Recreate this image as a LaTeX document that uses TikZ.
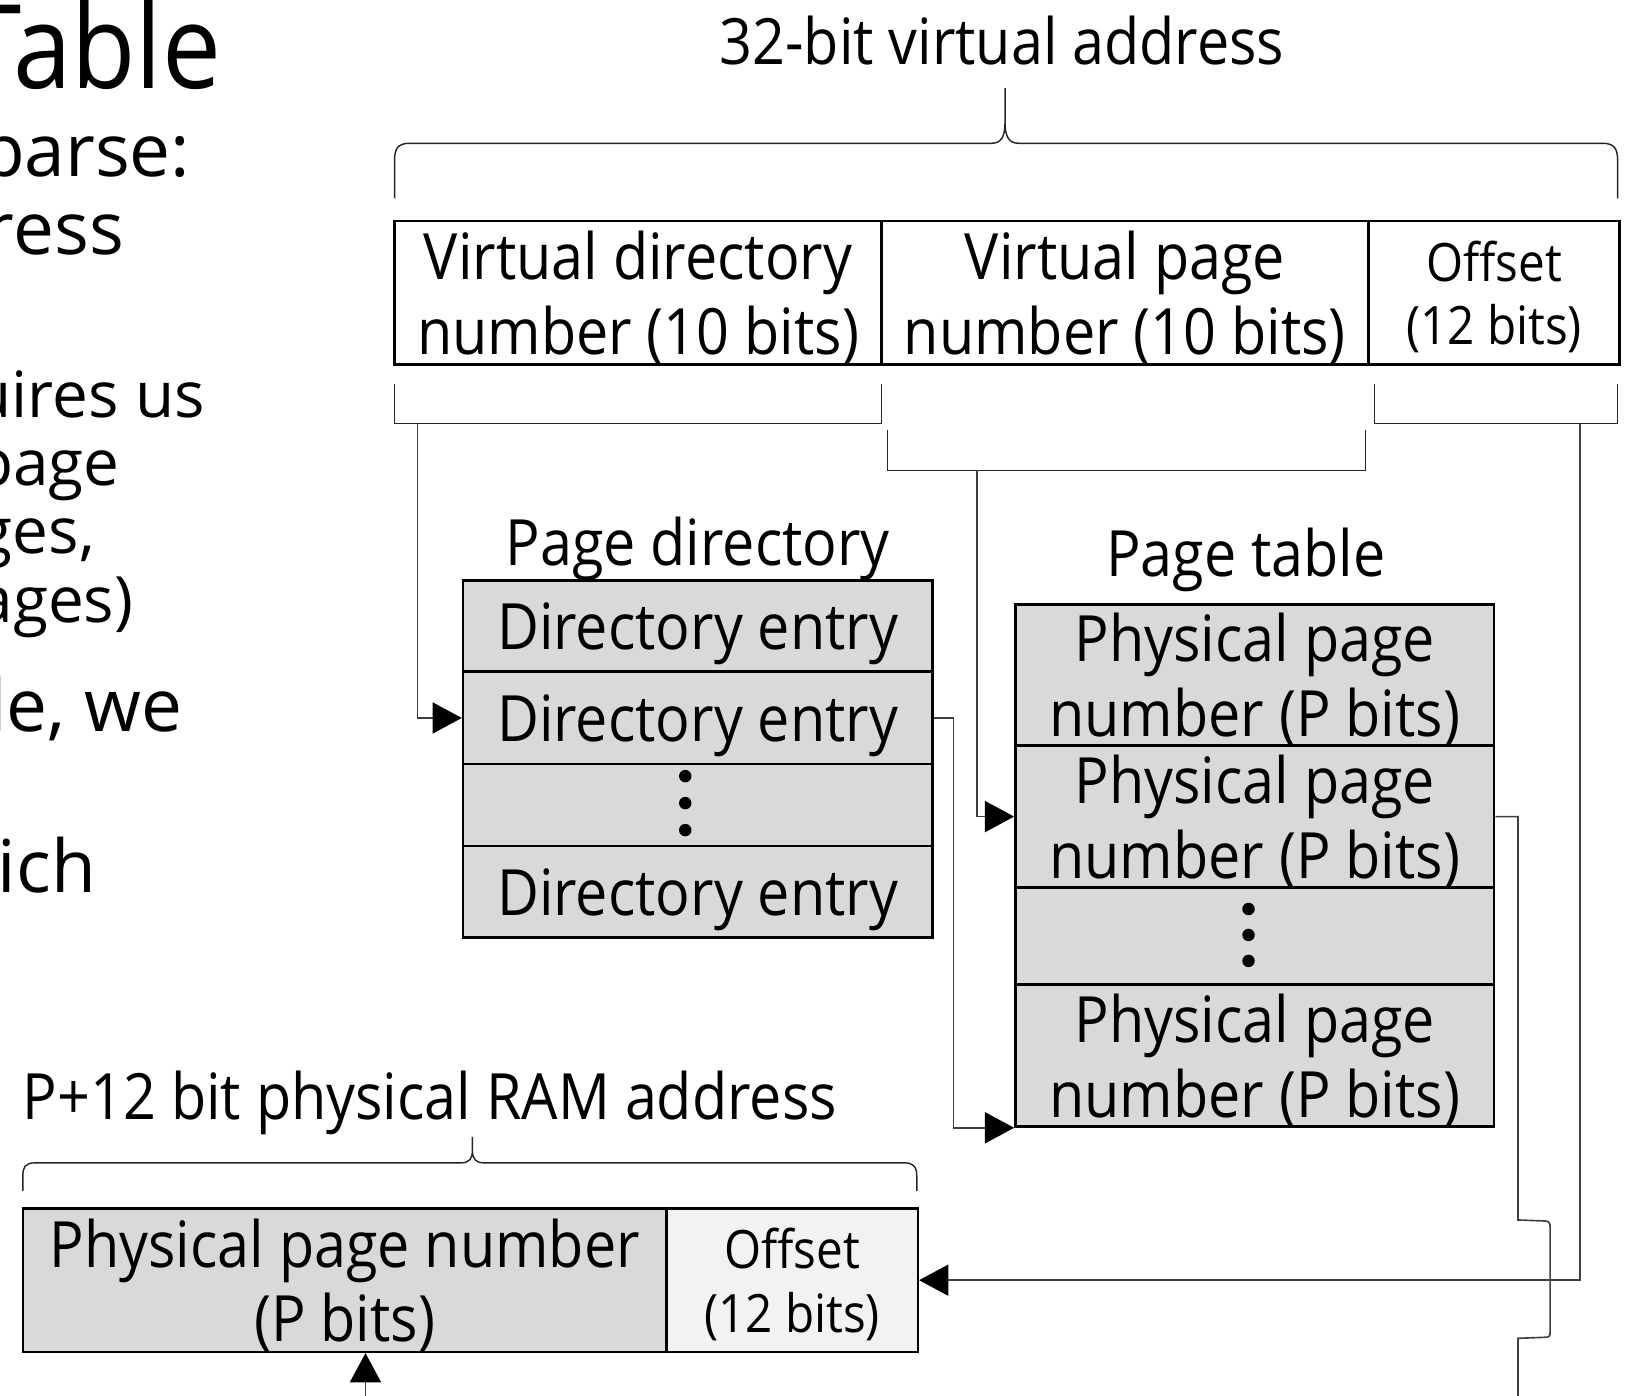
\documentclass[tikz,border=0pt]{standalone}
\usepackage{fontspec}
\newfontfamily\slidefont{Open Sans}[FakeStretch=0.9]
\newfontfamily\bodyfamily{Open Sans}
\usetikzlibrary{arrows.meta}

\definecolor{entrygray}{HTML}{D9D9D9}
\definecolor{offgray}{HTML}{F2F2F2}

\newcommand{\cellfont}{\slidefont\fontsize{17.5}{20.5}\selectfont}
\newcommand{\smallcellfont}{\slidefont\fontsize{14.5}{17.4}\selectfont}
\newcommand{\headfont}{\slidefont\fontsize{32}{38}\selectfont}
\newcommand{\bodyfont}{\bodyfamily\fontsize{20}{24}\selectfont}
\newcommand{\subfont}{\bodyfamily\fontsize{17.5}{21}\selectfont}

\begin{document}
\begin{tikzpicture}[x=0.1mm, y=-0.1mm,
	cell/.style={draw, line width=0.7pt, inner sep=0pt, align=center, text depth=0pt, font=\cellfont},
	entry/.style={cell, fill=entrygray},
	caption/.style={font=\cellfont, inner sep=0pt, anchor=base},
	bullet/.style={font=\bodyfont, inner sep=0pt, anchor=base east},
	wire/.style={draw=black!75, line width=0.45pt},
	link/.style={wire, -{Triangle[length=8pt,width=8.5pt,color=black]}},
	bracket/.style={draw=black!85, line width=0.4pt}]

\useasboundingbox (0,0) rectangle (1568,1344);

% slide text, cut at the left edge
\node [bullet, font=\headfont] (Tit) at (214,85) {Table};
\node [bullet] (L1) at (184,170) {sparse:};
\node [bullet] (L2) at (120,245) {dress};
\node [bullet, font=\subfont] (L3) at (198,402) {quires us};
\node [bullet, font=\subfont] (L4) at (116,468) {page};
\node [bullet, font=\subfont] (L5) at (92,533) {ges,};
\node [bullet, font=\subfont] (L6) at (129,600) {ages)};
\node [bullet] (L7) at (176,705) {le, we};
\node [bullet] (L8) at (93,860) {hich};

%%%%%%%%%%%%%%%%%%%%%%%%%%%%%%%%%%%%%%%%%%%%%%%%%%%%%%%%%%%%%%%%%%%%%%%%
% virtual address
%%%%%%%%%%%%%%%%%%%%%%%%%%%%%%%%%%%%%%%%%%%%%%%%%%%%%%%%%%%%%%%%%%%%%%%%
\node [caption] (VAddr) at (965,62) {32-bit virtual address};
\node [cell, minimum width=46.9mm, minimum height=13.8mm] (VDir)	at (614.5,282)	{Virtual directory\\number (10 bits)};
\node [cell, minimum width=46.9mm, minimum height=13.8mm] (VPage)	at (1083.5,282)	{Virtual page\\number (10 bits)};
\node [cell, font=\smallcellfont, minimum width=24.2mm, minimum height=13.8mm] (VOff) at (1439,282) {Offset\\(12 bits)};

% brace over the whole address
\draw [bracket] (380,191) -- (380,155) .. controls (380,143) and (383,138) .. (395,138)
	-- (955,138) .. controls (964,138) and (968,132) .. (968,118) -- (968,85)
	-- (968,118) .. controls (968,132) and (972,138) .. (981,138)
	-- (1543,138) .. controls (1555,138) and (1558,143) .. (1558,155) -- (1558,191);

% brackets under the fields
\draw [bracket] (380,370) |- (849,408) -- (849,370);
\draw [bracket] (855,414) |- (1315,453) -- (1315,414);
\draw [bracket] (1324,370) |- (1558,408) -- (1558,370);
\coordinate (LB) at (402,408);
\coordinate (MB) at (941,453);
\coordinate (RB) at (1522,408);

%%%%%%%%%%%%%%%%%%%%%%%%%%%%%%%%%%%%%%%%%%%%%%%%%%%%%%%%%%%%%%%%%%%%%%%%
% page directory
%%%%%%%%%%%%%%%%%%%%%%%%%%%%%%%%%%%%%%%%%%%%%%%%%%%%%%%%%%%%%%%%%%%%%%%%
\node [caption] (PDir) at (672,545) {Page directory};
\node [entry, minimum width=45.2mm, minimum height=8.8mm] (DE1)	at (672,603)	{Directory entry};
\node [entry, minimum width=45.2mm, minimum height=8.9mm] (DE2)	at (672,691.5)	{Directory entry};
\node [entry, minimum width=45.2mm, minimum height=7.9mm] (DEdots)	at (672,775.5)	{};
\node [entry, minimum width=45.2mm, minimum height=8.8mm] (DE3)	at (672,859)	{Directory entry};
\fill (DEdots.center) ++(-12,-28) circle (0.6mm) ++(0,26) circle (0.6mm) ++(0,26) circle (0.6mm);

%%%%%%%%%%%%%%%%%%%%%%%%%%%%%%%%%%%%%%%%%%%%%%%%%%%%%%%%%%%%%%%%%%%%%%%%
% page table
%%%%%%%%%%%%%%%%%%%%%%%%%%%%%%%%%%%%%%%%%%%%%%%%%%%%%%%%%%%%%%%%%%%%%%%%
\node [caption] (PTab) at (1200,555) {Page table};
\node [entry, minimum width=46.1mm, minimum height=13.6mm] (PP1)	at (1208.5,650)		{Physical page\\number (P bits)};
\node [entry, minimum width=46.1mm, minimum height=13.7mm] (PP2)	at (1208.5,786.5)	{Physical page\\number (P bits)};
\node [entry, minimum width=46.1mm, minimum height=9.3mm] (PPdots)	at (1208.5,901.5)	{};
\node [entry, minimum width=46.1mm, minimum height=13.7mm] (PP3)	at (1208.5,1016.5)	{Physical page\\number (P bits)};
\fill (PPdots.center) ++(-6,-26) circle (0.6mm) ++(0,25) circle (0.6mm) ++(0,25) circle (0.6mm);

%%%%%%%%%%%%%%%%%%%%%%%%%%%%%%%%%%%%%%%%%%%%%%%%%%%%%%%%%%%%%%%%%%%%%%%%
% physical address
%%%%%%%%%%%%%%%%%%%%%%%%%%%%%%%%%%%%%%%%%%%%%%%%%%%%%%%%%%%%%%%%%%%%%%%%
\node [caption] (PAddr) at (414,1078) {P+12 bit physical RAM address};
\node [entry, minimum width=62mm, minimum height=13.8mm] (PPN) at (332,1233) {Physical page number\\(P bits)};
\node [cell, fill=offgray, font=\smallcellfont, minimum width=24.2mm, minimum height=13.8mm] (POff) at (763,1233) {Offset\\(12 bits)};

\draw [bracket] (22,1147) -- (22,1133) .. controls (22,1124) and (24,1120) .. (34,1120)
	-- (444,1120) .. controls (452,1120) and (455,1116) .. (455,1108) -- (455,1095)
	-- (455,1108) .. controls (455,1116) and (458,1120) .. (466,1120)
	-- (871,1120) .. controls (880,1120) and (883,1124) .. (883,1133) -- (883,1147);

%%%%%%%%%%%%%%%%%%%%%%%%%%%%%%%%%%%%%%%%%%%%%%%%%%%%%%%%%%%%%%%%%%%%%%%%
% connections
%%%%%%%%%%%%%%%%%%%%%%%%%%%%%%%%%%%%%%%%%%%%%%%%%%%%%%%%%%%%%%%%%%%%%%%%
\draw [link] (LB) |- (DE2.west);
\draw [link] (MB) |- (PP2.west);
\draw [link] (RB) |- (POff.east);
\draw [link] (DE2.east) -- ++(19,0) |- (PP3.south west);

% page number runs down past the offset line and off the bottom
\coordinate (Jog) at (1462,1175);
\draw [wire] (PP2.east) -| (Jog) -- (1488,1176) .. controls (1492,1176) and (1493,1178) .. (1493,1182)
	-- (1493,1283) .. controls (1493,1287) and (1492,1288) .. (1488,1288) -- (1462,1289) -- (1462,1350);
\coordinate (PIn) at (352,1350);
\draw [link] (PIn) -- (PIn |- PPN.south);

\end{tikzpicture}
\end{document}
